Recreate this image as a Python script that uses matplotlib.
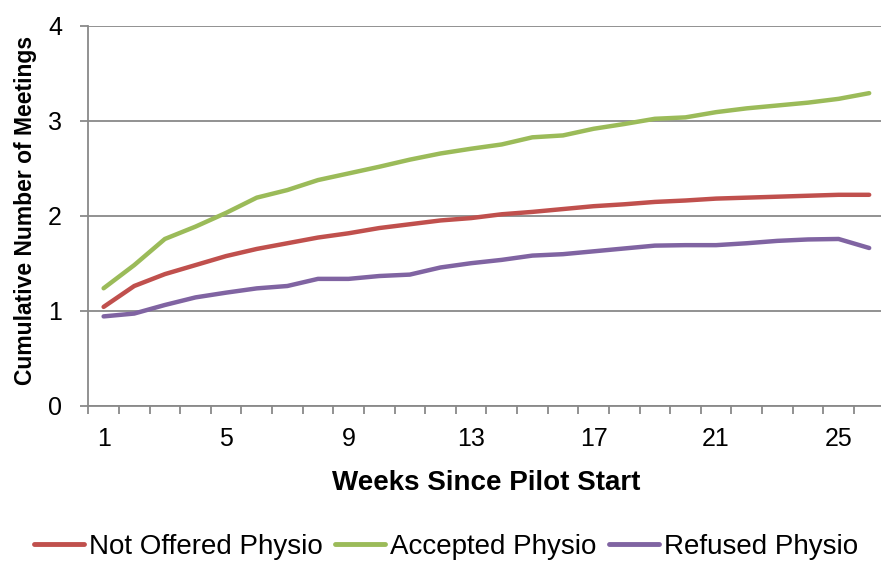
import matplotlib
matplotlib.use("Agg")
import matplotlib.pyplot as plt
from matplotlib.ticker import FixedLocator

plt.rcParams['font.family'] = ['Liberation Sans', 'DejaVu Sans']

weeks = list(range(1, 27))
not_offered = [1.04, 1.26, 1.385, 1.48, 1.575, 1.65, 1.71, 1.77, 1.815, 1.87, 1.91, 1.95, 1.975,
               2.015, 2.04, 2.07, 2.10, 2.12, 2.145, 2.16, 2.18, 2.19, 2.20, 2.21, 2.22, 2.22]
accepted = [1.236, 1.48, 1.755, 1.885, 2.03, 2.19, 2.27, 2.375, 2.445, 2.515, 2.59, 2.655, 2.705,
            2.75, 2.825, 2.845, 2.915, 2.965, 3.02, 3.035, 3.09, 3.13, 3.16, 3.19, 3.23, 3.29]
refused = [0.94, 0.97, 1.06, 1.14, 1.19, 1.235, 1.26, 1.335, 1.335, 1.365, 1.38, 1.455, 1.50,
           1.535, 1.58, 1.595, 1.625, 1.655, 1.685, 1.69, 1.69, 1.71, 1.735, 1.75, 1.755, 1.66]
series_names = ["Not Offered Physio", "Accepted Physio", "Refused Physio"]
colors = ["#C0504D", "#9BBB59", "#8064A2"]
x_tick_labels = [1, 5, 9, 13, 17, 21, 25]
y_ticks = [0, 1, 2, 3, 4]

W, H = 881, 563
fig = plt.figure(figsize=(W / 100, H / 100), dpi=100)
ax = fig.add_axes([88.3 / W, 1 - 405.7 / H, (884.5 - 88.3) / W, (405.7 - 25.7) / H])

grid_c = "#898989"
for vals, name, c in zip([not_offered, accepted, refused], series_names, colors):
    ax.plot(weeks, vals, color=c, lw=3.2, label=name, solid_capstyle='round', zorder=3)

ax.set_xlim(0.5, 26.5)
ax.set_ylim(0, 4)
ax.set_yticks(y_ticks)
ax.yaxis.grid(True, color=grid_c, lw=1.3)
ax.set_axisbelow(True)
for s in ['top', 'right']:
    ax.spines[s].set_visible(False)
for s in ['left', 'bottom']:
    ax.spines[s].set_color(grid_c)
    ax.spines[s].set_linewidth(1.3)

ax.xaxis.set_major_locator(FixedLocator(x_tick_labels))
ax.set_xticklabels([str(v) for v in x_tick_labels])
ax.xaxis.set_minor_locator(FixedLocator([w - 0.5 for w in weeks] + [26.5]))
ax.tick_params(axis='x', which='major', length=0, pad=15, labelsize=18)
ax.tick_params(axis='x', which='minor', length=5.5, width=1.3, color=grid_c, direction='out')
ax.tick_params(axis='y', which='major', length=6, width=1.3, color=grid_c, pad=13, labelsize=18)

ax.set_xlabel("Weeks Since Pilot Start", fontsize=20, fontweight='bold')
ax.xaxis.set_label_coords(0.5, -0.168)
ax.set_ylabel("Cumulative Number of Meetings", fontsize=16.5, fontweight='bold')
ax.yaxis.set_label_coords(-0.065, 0.515)

leg = fig.legend(loc='center', bbox_to_anchor=(0.506, 1 - 547 / H), ncol=3, frameon=False,
                 fontsize=20, handlelength=1.8, handletextpad=0.18, columnspacing=0.45,
                 borderaxespad=0)
for h in leg.get_lines():
    h.set_linewidth(3.5)

fig.savefig("out.png", dpi=100)
